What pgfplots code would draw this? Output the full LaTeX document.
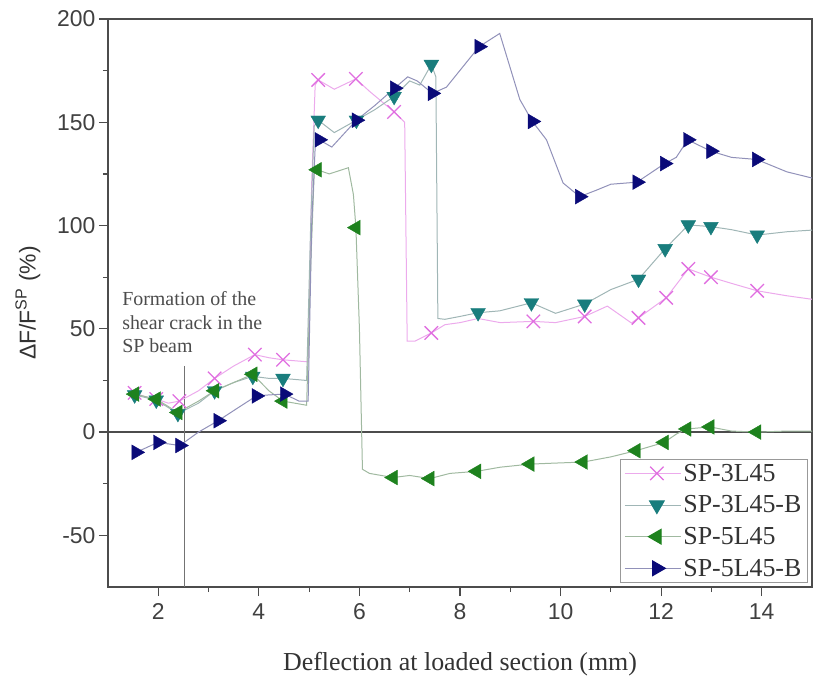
\documentclass[border=0pt]{standalone}
\usepackage{pgfplots}
\pgfplotsset{compat=1.18}
\usepackage{fontspec}
\setmainfont{Liberation Serif}
\setsansfont{Liberation Sans}
\definecolor{cP}{RGB}{224,110,224}
\definecolor{cPl}{RGB}{236,170,236}
\definecolor{cT}{RGB}{25,125,125}
\definecolor{cTl}{RGB}{160,182,182}
\definecolor{cG}{RGB}{30,130,30}
\definecolor{cGl}{RGB}{160,185,160}
\definecolor{cN}{RGB}{10,10,120}
\definecolor{cNl}{RGB}{145,145,185}
\pgfplotsset{
  limg/.style={legend image code/.code={\draw[##1, mark=none] (0bp,0bp) -- (56bp,0bp); \draw[##1] plot coordinates {(32bp,0bp)};}},
}
\begin{document}
\begin{tikzpicture}
\begin{axis}[name=ax,
  width=704bp, height=568bp, scale only axis,
  xmin=1, xmax=15, ymin=-75, ymax=200,
  xtick={2,4,6,8,10,12,14}, xticklabels={2,4,6,8,10,12,14},
  ytick={-50,0,50,100,150,200}, yticklabels={-50,0,50,100,150,200},
  minor x tick num=1, minor y tick num=1,
  tick pos=left, tick align=outside,
  major tick length=9bp, minor tick length=5bp,
  every tick/.style={black!70, line width=1.2bp},
  axis line style={draw=black!70, line width=1.5bp},
  ticklabel style={font=\sffamily\fontsize{23}{23}\selectfont, text=black!75},
  xticklabel style={yshift=-4bp},
  xlabel={Deflection at loaded section (mm)},
  xlabel style={font=\fontsize{26}{28}\selectfont, text=black!80, yshift=-26bp},
  ylabel={\sffamily ΔF/F\textsuperscript{SP} (\%)},
  ylabel style={font=\fontsize{23}{25}\selectfont, text=black!80, yshift=10bp},
  legend style={at={(0.994,0.007)}, anchor=south east, draw=black!40, line width=0.8bp,
    font=\fontsize{26}{28}\selectfont, text=black!80, row sep=9bp, inner xsep=4bp, inner ysep=3bp,
    /tikz/every even column/.append style={column sep=0bp}},
  legend cell align=left,
  clip=true,
]
\addlegendimage{limg, cPl, line width=1bp, mark=x, mark options={draw=cP, line width=1.3bp, mark size=9.5bp}}
\addlegendentry{SP-3L45}
\addlegendimage{limg, cTl, line width=1bp, mark=triangle*, mark options={fill=cT, draw=cT, rotate=180, mark size=8.5bp}}
\addlegendentry{SP-3L45-B}
\addlegendimage{limg, cGl, line width=1bp, mark=triangle*, mark options={fill=cG, draw=cG, rotate=90, mark size=8.5bp}}
\addlegendentry{SP-5L45}
\addlegendimage{limg, cNl, line width=1bp, mark=triangle*, mark options={fill=cN, draw=cN, rotate=-90, mark size=8.5bp}}
\addlegendentry{SP-5L45-B}

% zero line and annotation line
\addplot[forget plot, black!70, line width=2.5bp] coordinates {(1,0) (15,0)};
\addplot[forget plot, black!55, line width=0.9bp] coordinates {(2.52,32) (2.52,-75)};

% SP-3L45 line
\addplot[forget plot, cPl, line width=1bp] coordinates {
(1.53,19) (1.75,17) (1.96,16) (2.2,14) (2.42,15) (2.8,20) (3.12,26) (3.5,32) (3.92,37.5) (4.2,36) (4.48,35) (4.98,34)
(5.05,120) (5.12,168) (5.18,170.5) (5.5,166) (5.93,171) (6.2,165) (6.69,155) (6.9,150) (6.95,44) (7.1,44) (7.43,48)
(7.7,52) (8.0,53) (8.36,55) (8.8,53) (9.46,53.6) (9.9,53) (10.48,56) (10.93,61) (11.41,52.8) (11.55,55.3) (12.1,65)
(12.54,79) (12.99,75) (13.4,72) (13.91,68.4) (14.5,66) (15,64.3)};
% SP-3L45-B line
\addplot[forget plot, cTl, line width=1bp] coordinates {
(1.53,18) (1.96,15.5) (2.39,9) (2.8,14) (3.12,20) (3.5,24) (3.88,27) (4.2,26) (4.48,26) (4.95,25) (5.03,100) (5.1,148)
(5.18,151) (5.5,145) (5.94,151) (6.3,156) (6.69,162.5) (7.0,170) (7.2,168) (7.43,178) (7.52,172) (7.56,55) (7.7,54.6)
(8.0,56) (8.36,57.8) (8.79,58.7) (9.0,60) (9.42,62.6) (9.9,57.5) (10.48,62) (11.0,69) (11.55,74) (12.08,88.8) (12.37,96)
(12.54,100.3) (12.99,99.5) (13.4,98) (13.91,95.4) (14.5,97) (15,97.8)};
% SP-5L45 line
\addplot[forget plot, cGl, line width=1bp] coordinates {
(1.53,18.4) (1.96,16) (2.39,9.5) (2.8,15) (3.12,20) (3.5,24) (3.88,28) (4.2,20) (4.48,15) (4.95,13) (5.03,80) (5.1,125)
(5.16,127) (5.4,125) (5.78,128) (5.88,115) (5.93,99) (6.0,50) (6.06,-18) (6.2,-20) (6.67,-22) (7.0,-21) (7.4,-22.5)
(7.8,-20) (8.33,-19) (8.8,-17) (9.39,-15.5) (9.9,-15) (10.45,-14.5) (11.0,-12) (11.5,-9) (12.06,-5) (12.3,-1) (12.51,1.5)
(12.97,2.5) (13.4,0.5) (13.9,0) (14.5,0.5) (15,0.5)};
% SP-5L45-B line
\addplot[forget plot, cNl, line width=1bp] coordinates {
(1.56,-9.8) (1.99,-5) (2.43,-6.5) (2.8,0) (3.19,5.5) (3.6,12) (3.95,17.5) (4.2,18) (4.51,18.4) (4.8,15) (4.98,15)
(5.05,100) (5.12,138) (5.2,141.5) (5.45,138) (5.94,151) (6.3,158) (6.7,166.5) (6.96,172) (7.15,170) (7.45,164) (7.73,167)
(8.38,186.6) (8.79,193) (9.19,161) (9.44,150.4) (9.72,141.5) (10.05,120.6) (10.38,114) (10.7,117) (11.0,120) (11.52,121)
(12.07,130) (12.3,133) (12.53,141.5) (12.99,136) (13.4,133) (13.9,132) (14.5,126) (15,123)};

% markers
\addplot[forget plot, only marks, mark=x, mark options={draw=cP, line width=1.3bp, mark size=9.5bp}] coordinates {
(1.53,19) (1.96,16) (2.42,15) (3.12,26) (3.92,37.5) (4.48,35) (5.18,170.5) (5.93,171) (6.69,155) (7.43,48)
(9.46,53.6) (10.48,56) (11.55,55.3) (12.1,65) (12.54,79) (12.99,75) (13.91,68.4)};
\addplot[forget plot, only marks, mark=triangle*, mark options={fill=cT, draw=cT, rotate=180, mark size=8.5bp}] coordinates {
(1.53,18) (1.96,15.5) (2.39,9) (3.12,20) (3.88,27) (4.48,26) (5.18,151) (5.94,151) (6.69,162.5) (7.43,178)
(8.36,57.8) (9.42,62.6) (10.48,62) (11.55,74) (12.08,88.8) (12.54,100.3) (12.99,99.5) (13.91,95.4)};
\addplot[forget plot, only marks, mark=triangle*, mark options={fill=cG, draw=cG, rotate=90, mark size=8.5bp}] coordinates {
(1.53,18.4) (1.96,16) (2.39,9.5) (3.12,20) (3.88,28) (4.48,15) (5.16,127) (5.93,99) (6.67,-22) (7.4,-22.5)
(8.33,-19) (9.39,-15.5) (10.45,-14.5) (11.5,-9) (12.06,-5) (12.51,1.5) (12.97,2.5) (13.9,0)};
\addplot[forget plot, only marks, mark=triangle*, mark options={fill=cN, draw=cN, rotate=-90, mark size=8.5bp}] coordinates {
(1.56,-9.8) (1.99,-5) (2.43,-6.5) (3.19,5.5) (3.95,17.5) (4.51,18.4) (5.2,141.5) (5.94,151) (6.7,166.5) (7.45,164)
(8.38,186.6) (9.44,150.4) (10.38,114) (11.52,121) (12.07,130) (12.53,141.5) (12.99,136) (13.9,132)};

\node[anchor=north west, align=left, font=\fontsize{20}{23.5}\selectfont, text=black!70, inner sep=0pt]
  at (axis cs:1.28,68) {Formation of the\\shear crack in the\\SP beam};
\end{axis}
\path ([xshift=-108bp,yshift=-89bp]ax.south west) rectangle ([xshift=6bp,yshift=19bp]ax.north east);
\end{tikzpicture}
\end{document}
